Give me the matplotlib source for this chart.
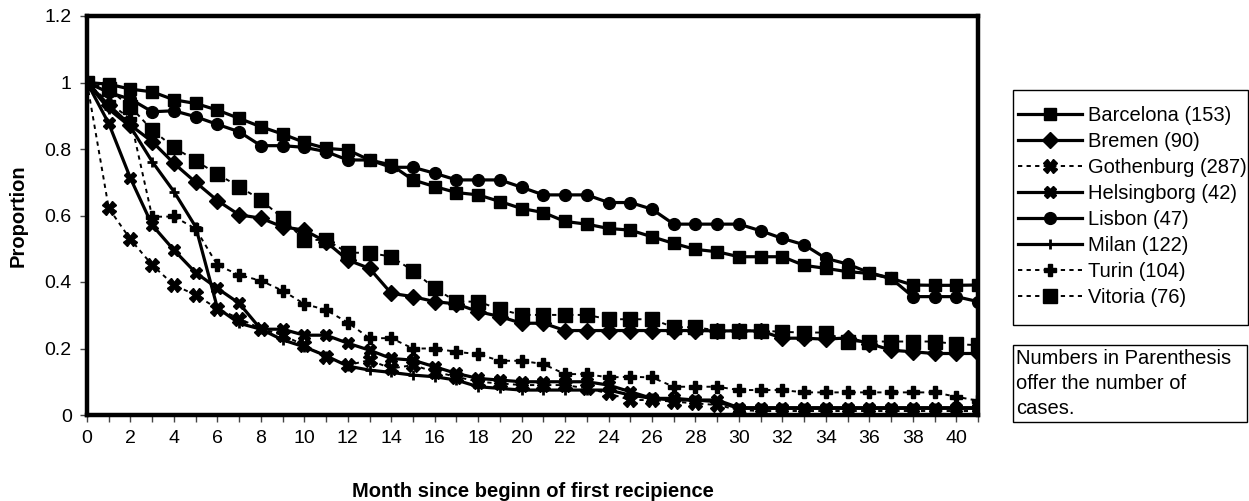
import matplotlib
matplotlib.use("Agg")
import matplotlib.pyplot as plt
from matplotlib.patches import Rectangle
from matplotlib.ticker import FuncFormatter, MultipleLocator

plt.rcParams['font.family'] = ['Liberation Sans', 'DejaVu Sans']

months = list(range(42))

barcelona = [1.0, 0.995, 0.98, 0.972, 0.948, 0.937, 0.917, 0.892, 0.867, 0.845,
             0.82, 0.802, 0.797, 0.767, 0.752, 0.707, 0.687, 0.669, 0.662, 0.642,
             0.621, 0.609, 0.582, 0.574, 0.561, 0.556, 0.536, 0.516, 0.498, 0.491,
             0.476, 0.476, 0.476, 0.45, 0.441, 0.431, 0.426, 0.411, 0.391, 0.39,
             0.39, 0.391]
bremen = [1.0, 0.932, 0.872, 0.822, 0.757, 0.70, 0.645, 0.602, 0.592, 0.566,
          0.556, 0.521, 0.466, 0.441, 0.366, 0.356, 0.341, 0.334, 0.311, 0.296,
          0.276, 0.276, 0.254, 0.254, 0.254, 0.254, 0.254, 0.254, 0.254, 0.253,
          0.253, 0.253, 0.231, 0.231, 0.228, 0.232, 0.215, 0.195, 0.19, 0.185,
          0.185, 0.185]
gothenburg = [1.0, 0.622, 0.528, 0.451, 0.391, 0.361, 0.32, 0.29, 0.26, 0.24,
              0.21, 0.175, 0.15, 0.165, 0.14, 0.15, 0.13, 0.115, 0.1, 0.095,
              0.09, 0.09, 0.09, 0.08, 0.065, 0.045, 0.045, 0.04, 0.035, 0.03,
              0.015, 0.012, 0.012, 0.012, 0.012, 0.012, 0.012, 0.012, 0.012, 0.012,
              0.012, 0.012]
helsingborg = [1.0, 0.877, 0.712, 0.571, 0.496, 0.428, 0.381, 0.336, 0.258, 0.258,
               0.24, 0.24, 0.216, 0.195, 0.17, 0.165, 0.145, 0.125, 0.11, 0.105,
               0.1, 0.1, 0.1, 0.1, 0.09, 0.07, 0.05, 0.05, 0.045, 0.045,
               0.022, 0.022, 0.022, 0.022, 0.022, 0.022, 0.022, 0.022, 0.022, 0.022,
               0.022, 0.022]
lisbon = [1.0, 0.97, 0.95, 0.912, 0.915, 0.897, 0.874, 0.852, 0.81, 0.81,
          0.805, 0.792, 0.767, 0.767, 0.745, 0.745, 0.727, 0.707, 0.707, 0.707,
          0.685, 0.662, 0.662, 0.662, 0.639, 0.639, 0.619, 0.574, 0.574, 0.574,
          0.574, 0.554, 0.531, 0.512, 0.471, 0.454, 0.428, 0.411, 0.356, 0.356,
          0.356, 0.341]
milan = [1.0, 0.92, 0.867, 0.762, 0.672, 0.566, 0.322, 0.276, 0.258, 0.226,
         0.205, 0.178, 0.147, 0.135, 0.128, 0.12, 0.115, 0.105, 0.085, 0.08,
         0.075, 0.075, 0.075, 0.075, 0.075, 0.06, 0.05, 0.045, 0.045, 0.04,
         0.02, 0.02, 0.02, 0.02, 0.02, 0.02, 0.02, 0.02, 0.02, 0.02,
         0.02, 0.02]
turin = [1.0, 0.94, 0.89, 0.596, 0.597, 0.56, 0.451, 0.421, 0.404, 0.374,
         0.334, 0.316, 0.278, 0.231, 0.231, 0.2, 0.2, 0.19, 0.183, 0.163,
         0.163, 0.153, 0.123, 0.123, 0.113, 0.115, 0.113, 0.085, 0.085, 0.085,
         0.075, 0.075, 0.075, 0.068, 0.068, 0.068, 0.068, 0.068, 0.068, 0.068,
         0.055, 0.043]
vitoria = [1.0, 0.98, 0.927, 0.857, 0.805, 0.765, 0.724, 0.687, 0.647, 0.592,
           0.526, 0.527, 0.488, 0.488, 0.476, 0.434, 0.381, 0.341, 0.341, 0.318,
           0.301, 0.301, 0.301, 0.301, 0.288, 0.288, 0.288, 0.264, 0.264, 0.254,
           0.254, 0.254, 0.25, 0.248, 0.248, 0.221, 0.221, 0.221, 0.221, 0.221,
           0.213, 0.21]

labels = ["Barcelona (153)", "Bremen (90)", "Gothenburg (287)", "Helsingborg (42)",
          "Lisbon (47)", "Milan (122)", "Turin (104)", "Vitoria (76)"]
note_lines = ["Numbers in Parenthesis", "offer the number of", "cases."]

W, H = 1249, 501
fig = plt.figure(figsize=(W / 100, H / 100), dpi=100)
ax = fig.add_axes([87 / W, 1 - 415 / H, (978 - 87) / W, (415 - 16) / H])

solid = dict(color="black", linestyle="-", linewidth=2.3)
dotted = dict(color="black", linestyle=(0, (2.2, 2.2)), linewidth=1.4)

ax.plot(months, barcelona, marker="s", markersize=8, label=labels[0], **solid)
ax.plot(months, bremen, marker="D", markersize=8, label=labels[1], **solid)
ax.plot(months, gothenburg, marker="X", markersize=10, label=labels[2], **dotted)
ax.plot(months, helsingborg, marker="X", markersize=8, label=labels[3], **solid)
ax.plot(months, lisbon, marker="o", markersize=8.5, label=labels[4], **solid)
ax.plot(months, milan, marker="+", markersize=7, markeredgewidth=2, label=labels[5], **solid)
ax.plot(months, turin, marker="P", markersize=9, label=labels[6], **dotted)
ax.plot(months, vitoria, marker="s", markersize=10.5, label=labels[7], **dotted)

ax.set_xlim(0, 41)
ax.set_ylim(0, 1.2)
ax.xaxis.set_major_locator(MultipleLocator(1))
ax.xaxis.set_major_formatter(FuncFormatter(lambda v, p: f"{int(v)}" if int(v) % 2 == 0 else ""))
ax.yaxis.set_major_locator(MultipleLocator(0.2))
ax.yaxis.set_major_formatter(FuncFormatter(lambda v, p: f"{v:g}"))
ax.tick_params(axis="both", direction="out", length=5, width=1, color="#444444",
               labelsize=14, pad=6)
for s in ax.spines.values():
    s.set_linewidth(3.2)
    s.set_color("black")

ax.set_ylabel("Proportion", fontsize=14.5, fontweight="bold", labelpad=12)
ax.set_xlabel("Month since beginn of first recipience", fontsize=14.5,
              fontweight="bold", labelpad=25)

# legend box frame, drawn separately so the entries keep a narrow side margin
lx0, ly0, lx1, ly1 = 1013, 90, 1248, 325
fig.add_artist(Rectangle((lx0 / W, 1 - ly1 / H), (lx1 - lx0) / W, (ly1 - ly0) / H,
                         transform=fig.transFigure, fill=False, edgecolor="black",
                         linewidth=1))
leg = fig.legend(loc="upper left", bbox_to_anchor=(lx0 / W, 1 - 101 / H),
                 fontsize=14.5, handlelength=3.2, handletextpad=0.25,
                 labelspacing=0.35, borderpad=0.25, frameon=False, borderaxespad=0)

# note box under the legend
x0, y0, x1, y1 = 1013, 345, 1247, 422
fig.add_artist(Rectangle((x0 / W, 1 - y1 / H), (x1 - x0) / W, (y1 - y0) / H,
                         transform=fig.transFigure, fill=False, edgecolor="black",
                         linewidth=1))
for i, line in enumerate(note_lines):
    fig.text((x0 + 3) / W, 1 - (y0 + 13 + i * 25.5) / H, line, fontsize=14.5,
             va="center", ha="left")

fig.savefig("out.png", dpi=100)
